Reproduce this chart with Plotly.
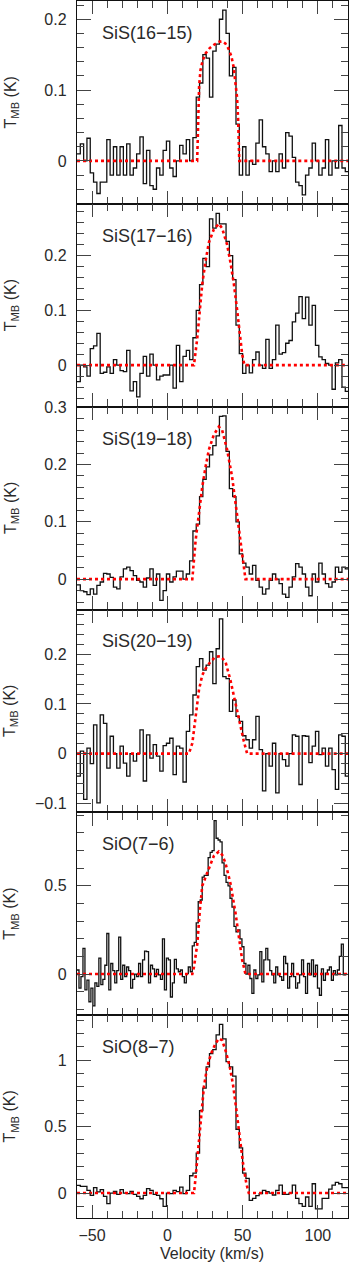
import plotly.graph_objects as go
from plotly.subplots import make_subplots

# ---------------- data ----------------
V_START = -60.0          # km/s, left edge of first channel
DV_COARSE = 2.2          # channel width (km/s) for most spectra
DV_FINE = 1.32           # channel width (km/s) for SiO(7-6)

line_labels = ["SiS(16\u221215)", "SiS(17\u221216)", "SiS(19\u221218)",
               "SiS(20\u221219)", "SiO(7\u22126)", "SiO(8\u22127)"]

sis_16_15 = [0.01, 0.024, 0.0, 0.032, -0.017, -0.03, -0.046, -0.03, -0.03, 0.03,
             -0.02, 0.02, -0.02, 0.02, -0.02, 0.024, -0.02, -0.01, 0.01, 0.034,
             -0.032, 0.015, -0.035, -0.04, -0.01, -0.02, 0.015, 0.028, -0.01, -0.022,
             0.0, 0.022, 0.01, 0.03, 0.0, 0.033, 0.09, 0.11, 0.15, 0.145,
             0.09, 0.155, 0.165, 0.2, 0.213, 0.18, 0.12, 0.132, 0.052, -0.02,
             0.02, -0.02, 0.0, -0.005, 0.025, 0.058, 0.02, 0.01, -0.015, 0.0,
             -0.015, 0.01, -0.01, 0.04, 0.035, 0.005, -0.03, -0.035, -0.048, -0.02,
             -0.01, 0.025, 0.0, -0.02, -0.01, 0.03, -0.02, 0.0, -0.01, 0.05,
             -0.01, -0.015]

sis_17_16 = [-0.03, 0.0, -0.003, -0.02, 0.03, 0.035, 0.058, -0.015, -0.013, -0.003,
             -0.015, 0.01, 0.0, -0.01, -0.012, 0.027, -0.047, -0.03, -0.058, -0.015,
             0.016, -0.02, 0.02, 0.0, -0.027, -0.02, -0.018, -0.018, 0.0, -0.042,
             0.036, -0.03, 0.016, 0.027, 0.01, 0.05, 0.1, 0.147, 0.195, 0.18,
             0.267, 0.25, 0.277, 0.258, 0.258, 0.226, 0.2, 0.156, 0.073, 0.021,
             -0.015, 0.0, -0.014, 0.01, 0.024, 0.0, -0.006, 0.047, -0.006, 0.01,
             0.073, 0.02, 0.023, 0.04, 0.045, 0.079, 0.095, 0.125, 0.085, 0.124,
             0.073, 0.109, 0.036, 0.015, 0.01, 0.003, 0.0, -0.044, 0.004, 0.01,
             -0.04, -0.048]

sis_19_18 = [-0.01, -0.02, -0.022, -0.027, -0.017, -0.026, -0.011, -0.005, 0.01, 0.009,
             0.003, -0.014, -0.017, 0.004, 0.018, 0.021, 0.015, 0.006, -0.002, -0.005,
             -0.014, 0.002, 0.018, -0.011, 0.009, -0.037, -0.02, 0.009, -0.005, 0.004,
             0.014, 0.014, 0.0, 0.009, 0.032, 0.084, 0.096, 0.144, 0.174, 0.196,
             0.217, 0.233, 0.25, 0.284, 0.285, 0.223, 0.158, 0.144, 0.1, 0.044,
             0.028, 0.021, 0.009, 0.024, -0.002, -0.014, -0.026, -0.017, -0.002, 0.009,
             0.0, -0.008, -0.026, -0.032, -0.014, 0.004, 0.027, 0.021, 0.009, -0.014,
             -0.029, 0.009, -0.005, 0.028, 0.009, -0.008, -0.014, -0.005, 0.021, 0.012,
             0.021, 0.018]

sis_20_19 = [-0.045, 0.005, -0.092, 0.011, -0.02, 0.058, -0.099, 0.078, 0.061, -0.029,
             0.035, 0.0, -0.029, 0.015, -0.019, -0.045, 0.0, -0.015, 0.0, 0.048,
             -0.055, 0.038, -0.009, 0.018, -0.005, -0.035, 0.016, 0.021, 0.031, -0.042,
             0.015, 0.011, -0.057, 0.045, 0.078, 0.118, 0.175, 0.191, 0.168, 0.178,
             0.205, 0.141, 0.211, 0.271, 0.155, 0.151, 0.085, 0.108, 0.075, 0.065,
             0.036, 0.028, 0.011, 0.028, 0.075, 0.008, -0.075, 0.0, -0.025, 0.021,
             -0.079, 0.0, -0.012, -0.025, 0.0, 0.038, 0.035, -0.062, 0.036, 0.035,
             -0.018, 0.015, 0.045, -0.002, 0.011, -0.025, 0.011, -0.032, -0.072, 0.038,
             0.035, -0.045]

sio_7_6 = [0.023, -0.08, -0.015, 0.146, -0.09, -0.034, -0.157, -0.08, -0.18, -0.05,
           -0.07, 0.09, -0.06, -0.03, 0.05, 0.23, -0.09, 0.06, 0.02, -0.05,
           0.02, 0.21, -0.03, 0.05, -0.015, 0.04, 0.02, -0.08, -0.03, 0.0,
           -0.015, 0.06, -0.015, 0.08, 0.13, 0.127, -0.05, 0.05, 0.03, -0.015,
           0.027, -0.005, -0.03, 0.2, -0.09, 0.09, 0.08, -0.13, -0.05, 0.083,
           0.03, 0.013, 0.023, -0.015, -0.05, 0.003, 0.04, 0.013, 0.16, 0.18,
           0.29, 0.41, 0.42, 0.55, 0.56, 0.56, 0.66, 0.69, 0.70, 0.87,
           0.77, 0.76, 0.75, 0.63, 0.56, 0.52, 0.5, 0.43, 0.38, 0.27,
           0.24, 0.25, 0.2, 0.155, 0.06, 0.0, 0.05, -0.025, -0.11, 0.023,
           -0.025, -0.005, 0.127, -0.044, 0.08, 0.146, 0.08, 0.02, -0.005, -0.05,
           0.04, -0.005, -0.015, -0.035, 0.1, 0.06, -0.08, -0.015, 0.06, -0.015,
           -0.08, -0.05, -0.005, 0.08, -0.015, -0.11, 0.06, -0.005, 0.08, -0.015,
           0.05, -0.08, -0.12, 0.03, -0.035, 0.005, 0.023, 0.04, -0.035, 0.02,
           -0.005, 0.023, 0.1, 0.17, -0.005, 0.0]

sio_8_7 = [0.058, 0.05, 0.05, 0.02, -0.018, 0.04, 0.008, 0.025, -0.025, -0.08,
           0.0, 0.012, -0.01, 0.025, 0.0, -0.005, 0.012, -0.01, -0.025, -0.043,
           -0.018, 0.033, 0.02, -0.01, -0.018, -0.043, -0.1, 0.0, -0.005, 0.02,
           0.01, 0.045, -0.005, 0.02, 0.13, 0.15, 0.30, 0.62, 0.79, 0.95,
           1.05, 1.08, 1.19, 1.27, 1.16, 0.99, 0.95, 0.88, 0.48, 0.34,
           0.15, 0.11, -0.055, -0.04, -0.02, -0.005, 0.02, 0.01, 0.0, -0.015,
           0.02, 0.06, -0.01, -0.01, 0.0, 0.06, -0.04, -0.08, -0.1, -0.03,
           -0.1, 0.07, -0.12, -0.12, -0.04, -0.04, 0.03, 0.06, 0.08, 0.07,
           0.04, 0.04]

spectra = [sis_16_15, sis_17_16, sis_19_18, sis_20_19, sio_7_6, sio_8_7]
channel_widths = [DV_COARSE, DV_COARSE, DV_COARSE, DV_COARSE, DV_FINE, DV_COARSE]

# fitted shell profiles (red dotted)
fit1_v = [-60, 19.8, 20.2, 20.6, 21.1, 22.0, 23.5, 25.5, 28, 31, 34, 36.5, 38.5,
          40.5, 42.5, 44.0, 45.3, 46.3, 47.0, 47.4, 47.8, 120]
fit1_T = [0, 0, 0.03, 0.075, 0.105, 0.128, 0.142, 0.152, 0.159, 0.164, 0.168, 0.169,
          0.166, 0.159, 0.148, 0.133, 0.113, 0.09, 0.06, 0.03, 0, 0]
fit2_v = [-60, 17.7, 19.9, 21.4, 23.2, 25.4, 27.6, 30.9, 34.2, 36.4, 39.7, 41.9,
          44.2, 46.4, 48.1, 49.7, 51.2, 120]
fit2_T = [0, 0, 0.05, 0.1, 0.148, 0.19, 0.224, 0.248, 0.258, 0.25, 0.22, 0.188,
          0.148, 0.1, 0.058, 0.02, 0, 0]
fit3_v = [-60, 16.6, 18.8, 21.0, 23.2, 25.4, 27.6, 30.9, 34.2, 36.4, 39.7, 43.0,
          45.3, 47.5, 49.7, 51.9, 120]
fit3_T = [0, 0, 0.068, 0.12, 0.161, 0.196, 0.226, 0.252, 0.266, 0.26, 0.226, 0.179,
          0.132, 0.085, 0.039, 0, 0]
fit4_v = [-60, 14.3, 16.6, 18.8, 21.0, 23.2, 25.4, 28.7, 32.0, 35.3, 38.6, 41.9,
          44.2, 46.4, 48.6, 50.8, 53.0, 120]
fit4_T = [0, 0, 0.021, 0.078, 0.128, 0.158, 0.171, 0.185, 0.195, 0.196, 0.185, 0.148,
          0.115, 0.088, 0.058, 0.025, 0, 0]
fit5_v = [-60, 16.6, 17.7, 19.9, 21.6, 23.2, 25.4, 27.6, 30.9, 34.2, 36.4, 38.6,
          41.9, 45.3, 47.5, 49.7, 51.9, 120]
fit5_T = [0, 0, 0.04, 0.17, 0.36, 0.5, 0.55, 0.6, 0.67, 0.695, 0.676, 0.63,
          0.515, 0.345, 0.2, 0.08, 0, 0]
fit6_v = [-60, 17.7, 18.8, 20.3, 22.1, 24.3, 26.5, 29.1, 32.0, 34.2, 36.4, 38.6,
          41.5, 43.7, 45.9, 48.1, 50.3, 52.5, 54.1, 120]
fit6_T = [0, 0, 0.12, 0.3, 0.57, 0.8, 0.95, 1.05, 1.125, 1.163, 1.15, 1.075,
          0.95, 0.81, 0.623, 0.4, 0.22, 0.07, 0, 0]

fits_v = [fit1_v, fit2_v, fit3_v, fit4_v, fit5_v, fit6_v]
fits_T = [fit1_T, fit2_T, fit3_T, fit4_T, fit5_T, fit6_T]

# axis settings per panel
y_ranges = [[-0.0606, 0.2258], [-0.0758, 0.2945], [-0.053, 0.301],
            [-0.118, 0.29], [-0.233, 0.917], [-0.188, 1.339]]
y_major = [0.1, 0.1, 0.1, 0.1, 0.5, 0.5]
y_minor = [0.02, 0.02, 0.02, 0.02, 0.1, 0.1]
x_range = [-60, 120]

# ---------------- figure ----------------
W, H = 349, 1263
ML, MR, MT, MB = 77, 1, 1, 45
FONT = "Liberation Sans, Arial, sans-serif"
TXT = "#2a2a2a"

fig = make_subplots(rows=6, cols=1, shared_xaxes=True, vertical_spacing=0)

for k in range(6):
    vals = spectra[k]
    dv = channel_widths[k]
    edges = [V_START + dv * i for i in range(len(vals) + 1)]
    yv = list(vals) + [vals[-1]]
    fig.add_trace(go.Scatter(x=edges, y=yv, mode="lines", line_shape="hv",
                             line=dict(color="#111111", width=1.3),
                             hoverinfo="skip", showlegend=False),
                  row=k + 1, col=1)
    fig.add_trace(go.Scatter(x=fits_v[k], y=fits_T[k], mode="lines",
                             line=dict(color="#ff0000", width=2.6, dash="dot"),
                             hoverinfo="skip", showlegend=False),
                  row=k + 1, col=1)

axis_common = dict(showline=True, linecolor="#111111", linewidth=1.4,
                   mirror="allticks", ticks="inside", tickcolor="#444444",
                   tickwidth=1.4, showgrid=False, zeroline=False, automargin=False,
                   tickfont=dict(family=FONT, size=16, color=TXT))

for k in range(6):
    ax_name = "yaxis" if k == 0 else f"yaxis{k + 1}"
    fig.layout[ax_name].update(
        range=y_ranges[k], dtick=y_major[k], tick0=0, ticklen=14,
        minor=dict(dtick=y_minor[k], tick0=0, ticklen=7, ticks="inside",
                   tickcolor="#444444", tickwidth=1.4, showgrid=False),
        ticklabelstandoff=6, **axis_common)
    xa_name = "xaxis" if k == 0 else f"xaxis{k + 1}"
    fig.layout[xa_name].update(
        range=x_range, dtick=50, tick0=0, ticklen=13,
        minor=dict(dtick=10, tick0=0, ticklen=7, ticks="inside",
                   tickcolor="#444444", tickwidth=1.4, showgrid=False),
        ticklabelstandoff=3, **axis_common)

annotations = []
for k in range(6):
    yref = "y domain" if k == 0 else f"y{k + 1} domain"
    annotations.append(dict(text=line_labels[k], xref="paper", yref=yref,
                            x=23 / (W - ML - MR), y=1 - 32 / 203.0,
                            xanchor="left", yanchor="middle", showarrow=False,
                            font=dict(family=FONT, size=18, color=TXT)))
    annotations.append(dict(text="T<sub>MB</sub> (K)", xref="paper", yref=yref,
                            x=(11 - ML) / (W - ML - MR), y=0.5, textangle=-90,
                            xanchor="center", yanchor="middle", showarrow=False,
                            font=dict(family=FONT, size=16, color=TXT)))
plot_h = H - MT - MB
annotations.append(dict(text="Velocity (km/s)", xref="paper", yref="paper",
                        x=(212 - ML) / (W - ML - MR), y=-(1253.5 - (H - MB)) / plot_h,
                        xanchor="center", yanchor="middle", showarrow=False,
                        font=dict(family=FONT, size=16, color=TXT)))

fig.update_layout(width=W, height=H, margin=dict(l=ML, r=MR, t=MT, b=MB),
                  paper_bgcolor="white", plot_bgcolor="white",
                  annotations=annotations, showlegend=False)

fig.write_html("out.html", config={"displayModeBar": False},
               post_script="document.body.style.margin='0';"
                           "document.body.style.padding='0';"
                           "document.body.style.overflow='hidden';")
